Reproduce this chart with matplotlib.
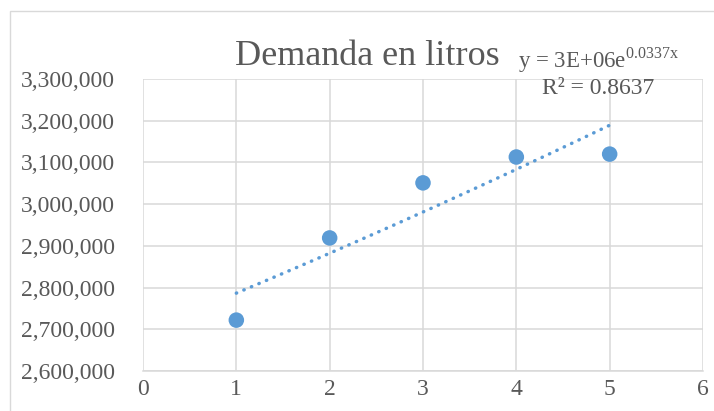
import matplotlib
matplotlib.use("Agg")

import numpy as np
import matplotlib.pyplot as plt
from matplotlib.patches import Rectangle
from matplotlib.ticker import FuncFormatter, MultipleLocator

periodo = [1, 2, 3, 4, 5]
demanda = [2722000, 2919000, 3051000, 3113000, 3120000]

titulo = "Demanda en litros"
ecuacion = r"y = 3E+06e$^{\mathregular{0.0337x}}$"
r_cuadrado = "R² = 0.8637"

C_PUNTO = "#5B9BD5"
C_TXT = "#595959"
C_GRID = "#D9D9D9"

plt.rcParams["font.family"] = ["Liberation Serif", "DejaVu Serif"]
plt.rcParams["mathtext.fontset"] = "custom"
plt.rcParams["mathtext.rm"] = "Liberation Serif"

fig = plt.figure(figsize=(7.14, 4.11), dpi=100, facecolor="white")

# borde del area del grafico
fig.patches.append(Rectangle((10 / 714, -0.2), 1.2, 1.2 - 11 / 411,
                             transform=fig.transFigure, fill=False,
                             edgecolor=C_GRID, linewidth=1.0))

ax = fig.add_axes([143 / 714, 40 / 411, 560 / 714, 292 / 411])

# linea de tendencia exponencial (ajuste por minimos cuadrados en log)
x = np.array(periodo, dtype=float)
y = np.array(demanda, dtype=float)
b, ln_a = np.polyfit(x, np.log(y), 1)
xt = np.linspace(1, 5, 200)
yt = np.exp(ln_a) * np.exp(b * xt)
ax.plot(xt, yt, color=C_PUNTO, linewidth=2.5,
        linestyle=(0, (0.1, 2.25)), dash_capstyle="round", zorder=3)

ax.scatter(periodo, demanda, s=125, color=C_PUNTO, edgecolors="none",
           zorder=4)

ax.set_xlim(0, 6)
ax.set_ylim(2600000, 3300000)
ax.xaxis.set_major_locator(MultipleLocator(1))
ax.yaxis.set_major_locator(MultipleLocator(100000))
ax.yaxis.set_major_formatter(FuncFormatter(lambda v, p: f"{v:,.0f}"))

ax.grid(True, color=C_GRID, linewidth=1.1)
ax.set_axisbelow(True)
for side in ["top", "right", "left"]:
    ax.spines[side].set_visible(False)
ax.spines["bottom"].set_color(C_GRID)
ax.spines["bottom"].set_linewidth(1.1)
ax.tick_params(length=0, labelsize=17, labelcolor=C_TXT)
ax.tick_params(axis="y", pad=20)
ax.tick_params(axis="x", pad=6)

fig.text(367 / 714, 1 - 56 / 411, titulo, ha="center", va="center",
         fontsize=26, color=C_TXT)
fig.text(599 / 714, 1 - 60 / 411, ecuacion, ha="center", va="center",
         fontsize=16.5, color=C_TXT)
fig.text(598 / 714, 1 - 88 / 411, r_cuadrado, ha="center", va="center",
         fontsize=17, color=C_TXT)

fig.savefig("out.png", dpi=100, facecolor="white")
plt.close(fig)
